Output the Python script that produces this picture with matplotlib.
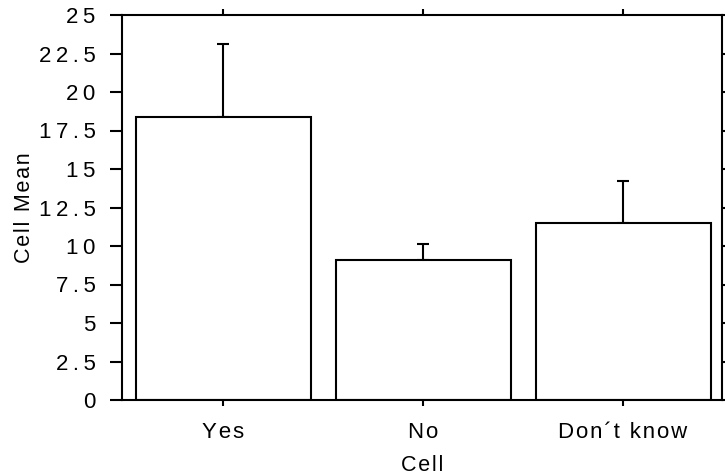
import matplotlib
matplotlib.use("Agg")
import matplotlib.pyplot as plt
import numpy as np
from matplotlib.ticker import FuncFormatter

plt.rcParams['font.family'] = ['Liberation Sans', 'DejaVu Sans']

# values
categories = ["Yes", "No", "Don\u00b4t know"]
means = [18.4, 9.1, 11.5]
errors = [4.7, 1.0, 2.73]
yticks = [0, 2.5, 5, 7.5, 10, 12.5, 15, 17.5, 20, 22.5, 25]

HAIR = "\u200a"
THIN = "\u2009"


def spaced(s, sp=HAIR):
    # the original has slightly wider letter spacing
    return sp.join(s)


fig = plt.figure(figsize=(7.25, 4.76), dpi=100)
ax = fig.add_axes([122 / 725, 76 / 476, 600 / 725, 385 / 476])

x = np.arange(len(categories))
ax.bar(x, means, width=0.875, color='white', edgecolor='black', linewidth=1.5, zorder=2)
ax.errorbar(x, means, yerr=[np.zeros(len(errors)), errors], fmt='none',
            ecolor='black', elinewidth=1.5, capsize=4.5, capthick=1.5, zorder=1)

ax.set_xlim(-0.505, 2.495)
ax.set_ylim(0, 25)
ax.set_yticks(yticks)
ax.yaxis.set_major_formatter(FuncFormatter(lambda v, p: spaced("%g" % v, THIN)))
ax.set_xticks(x)
ax.set_xticklabels([spaced(c) for c in categories])

for s in ax.spines.values():
    s.set_linewidth(1.5)

ax.tick_params(axis='y', which='both', direction='out', length=9, width=1.5,
               left=True, right=True, labelsize=16, pad=10)
ax.tick_params(axis='x', which='both', direction='out', length=4.5, width=1.5,
               top=True, bottom=True, labelsize=16, pad=11)

ax.set_ylabel(spaced("Cell Mean"), fontsize=15.5, labelpad=3)
ax.set_xlabel(spaced("Cell"), fontsize=15.5, labelpad=9)

fig.savefig("out.png", dpi=100)
